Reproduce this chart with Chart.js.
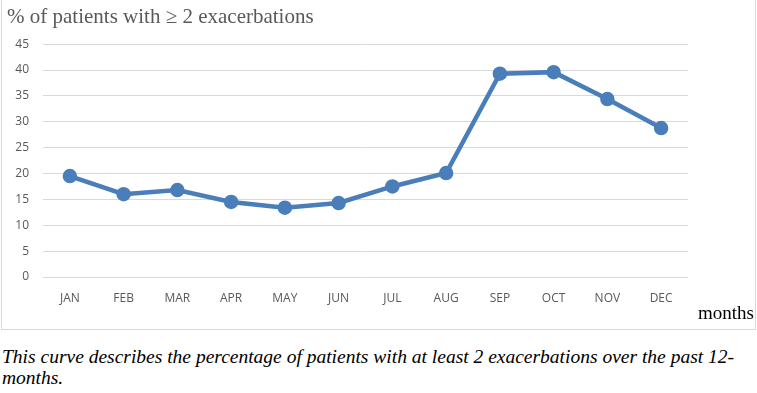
<!DOCTYPE html>
<html>
<head>
<meta charset="utf-8">
<script src="https://cdn.jsdelivr.net/npm/chart.js@4.4.0/dist/chart.umd.min.js"></script>
<style>
  body { margin: 0; background: #fff; width: 757px; height: 393px; overflow: hidden; }
  #box { position: absolute; left: 1px; top: 0; width: 753px; height: 329px; border: 1px solid #d9d9d9; border-top: none; }
  #chart { position: absolute; left: 0; top: 0; }
  #months { position: absolute; right: 3px; top: 302px; font: 19px "Liberation Serif", serif; color: #000; }
  #caption { position: absolute; left: 2px; top: 346px; width: 750px; font: italic 19.5px/21px "Liberation Serif", serif; color: #000; }
</style>
</head>
<body>
<div id="box"><canvas id="chart" width="753" height="329"></canvas></div>
<div id="months">months</div>
<div id="caption">This curve describes the percentage of patients with at least 2 exacerbations over the past 12-months.</div>
<script>
// dados
const meses = ["JAN", "FEB", "MAR", "APR", "MAY", "JUN", "JUL", "AUG", "SEP", "OCT", "NOV", "DEC"];
const percentual = [19.5, 16.0, 16.8, 14.5, 13.4, 14.3, 17.5, 20.1, 39.3, 39.6, 34.4, 28.8];
const tituloY = "% of patients with \u2265 2 exacerbations";

const cinza = "#595959";
const ctx = document.getElementById("chart").getContext("2d");
new Chart(ctx, {
  type: "line",
  data: {
    labels: meses,
    datasets: [
      {
        label: tituloY,
        data: percentual,
        borderColor: "#4a7ebb",
        backgroundColor: "#4a7ebb",
        borderWidth: 4.5,
        pointRadius: 5,
        pointHoverRadius: 5,
        tension: 0,
      },
    ],
  },
  options: {
    responsive: false,
    animation: false,
    layout: { padding: { left: 5, right: 67, top: 0, bottom: 0 } },
    plugins: {
      legend: { display: false },
      tooltip: { enabled: false },
      title: {
        display: true,
        text: tituloY,
        align: "start",
        color: cinza,
        font: { family: "Liberation Serif", size: 21, weight: "normal" },
        padding: { top: 5, bottom: 14 },
      },
    },
    scales: {
      x: {
        offset: true,
        grid: { display: false },
        border: { display: false },
        ticks: { color: cinza, font: { family: "Open Sans", size: 12 }, padding: 6 },
        afterFit: (s) => { s.height = 52; },
      },
      y: {
        min: 0,
        max: 45,
        ticks: { stepSize: 5, color: cinza, font: { family: "Open Sans", size: 12 }, padding: 14 },
        grid: { color: "#d9d9d9", lineWidth: 1, drawTicks: false },
        border: { display: false },
        afterFit: (s) => { s.width = 36; },
      },
    },
  },
});
</script>
</body>
</html>
